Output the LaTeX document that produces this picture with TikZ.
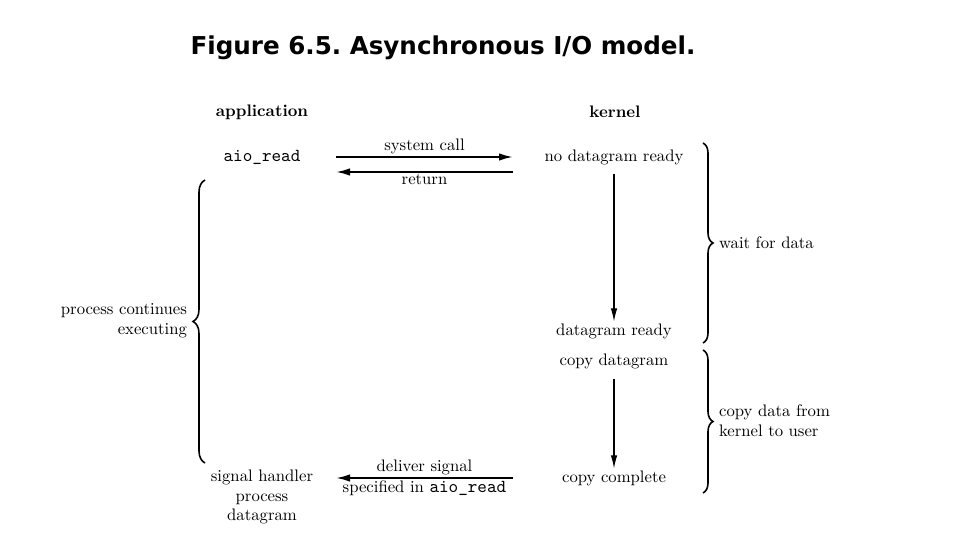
\documentclass[tikz,border=0pt]{standalone}
\usepackage{fontspec}
\newfontfamily\titlefont{DejaVu Sans}
\usetikzlibrary{arrows.meta,decorations.pathreplacing}
\frenchspacing

\newcommand\aioread{{\fontsize{10.4}{11}\selectfont\texttt{aio\_read}}}

\begin{document}
\begin{tikzpicture}[x=0.02cm, y=-0.02cm,
    txt/.style={font=\fontsize{9.5}{11.2}\selectfont, inner sep=1pt},
    head/.style={font=\fontsize{9.5}{11.2}\selectfont\bfseries, inner sep=1pt},
    call/.style={-{Latex[length=2.8mm,width=1.5mm]}, line width=1.1pt},
    flow/.style={-{Latex[length=2.6mm,width=1.3mm]}, line width=0.6pt},
    curly/.style={decorate, decoration={brace, amplitude=#1}, line width=0.9pt}]
    \useasboundingbox (0,0) rectangle (955,543);

    % title
    \node (title) at (443,48) {\titlefont\bfseries\fontsize{14}{16}\selectfont Figure 6.5. Asynchronous I/O model.};

    % column heads
    \node[head] (app) at (262,112) {application};
    \node[head] (kern) at (615,112) {kernel};

    % application side
    \node[txt] (aio) at (262,157) {\aioread};
    \node[txt, align=center] (sig) at (262,497) {signal handler\\process\\datagram};

    % kernel side
    \node[txt] (ndr) at (614,157) {no datagram ready};
    \node[txt] (dr) at (614,331) {datagram ready};
    \node[txt] (cpd) at (614,361) {copy datagram};
    \node[txt] (cpc) at (614,478) {copy complete};

    % system call and return
    \coordinate (sysA) at (336,157);
    \coordinate (sysB) at (513,157);
    \coordinate (retA) at (513,172);
    \coordinate (retB) at (336,172);
    \draw[call] (sysA) -- node[txt, above] (syslab) {system call} (sysB);
    \draw[call] (retA) -- node[txt, below] (retlab) {return} (retB);

    % kernel waits, then copies
    \draw[flow, shorten <=0.14cm] (ndr.south) -- (dr.north);
    \draw[flow, shorten <=0.16cm] (cpd.south) -- (cpc.north);

    % signal back to the application
    \coordinate (sigA) at (513,478);
    \coordinate (sigB) at (336,478);
    \draw[call] (sigA) -- node[txt, above] (siglab) {deliver signal}
        node[txt, below] (speclab) {specified in \aioread} (sigB);

    % right braces
    \coordinate (w0) at (703,143);
    \coordinate (w1) at (703,343);
    \draw[curly=0.2cm] (w0) -- (w1);
    \node[txt, anchor=west] (wait) at (717,243) {wait for data};
    \coordinate (c0) at (703,350);
    \coordinate (c1) at (703,493);
    \draw[curly=0.2cm] (c0) -- (c1);
    \node[txt, anchor=west, align=left] (copy) at (717,421) {copy data from\\kernel to user};

    % left brace
    \coordinate (p0) at (205,463);
    \coordinate (p1) at (205,180);
    \draw[curly=0.24cm] (p0) -- (p1);
    \node[txt, anchor=east, align=right] (proc) at (189,321) {process continues\\executing};
\end{tikzpicture}
\end{document}
